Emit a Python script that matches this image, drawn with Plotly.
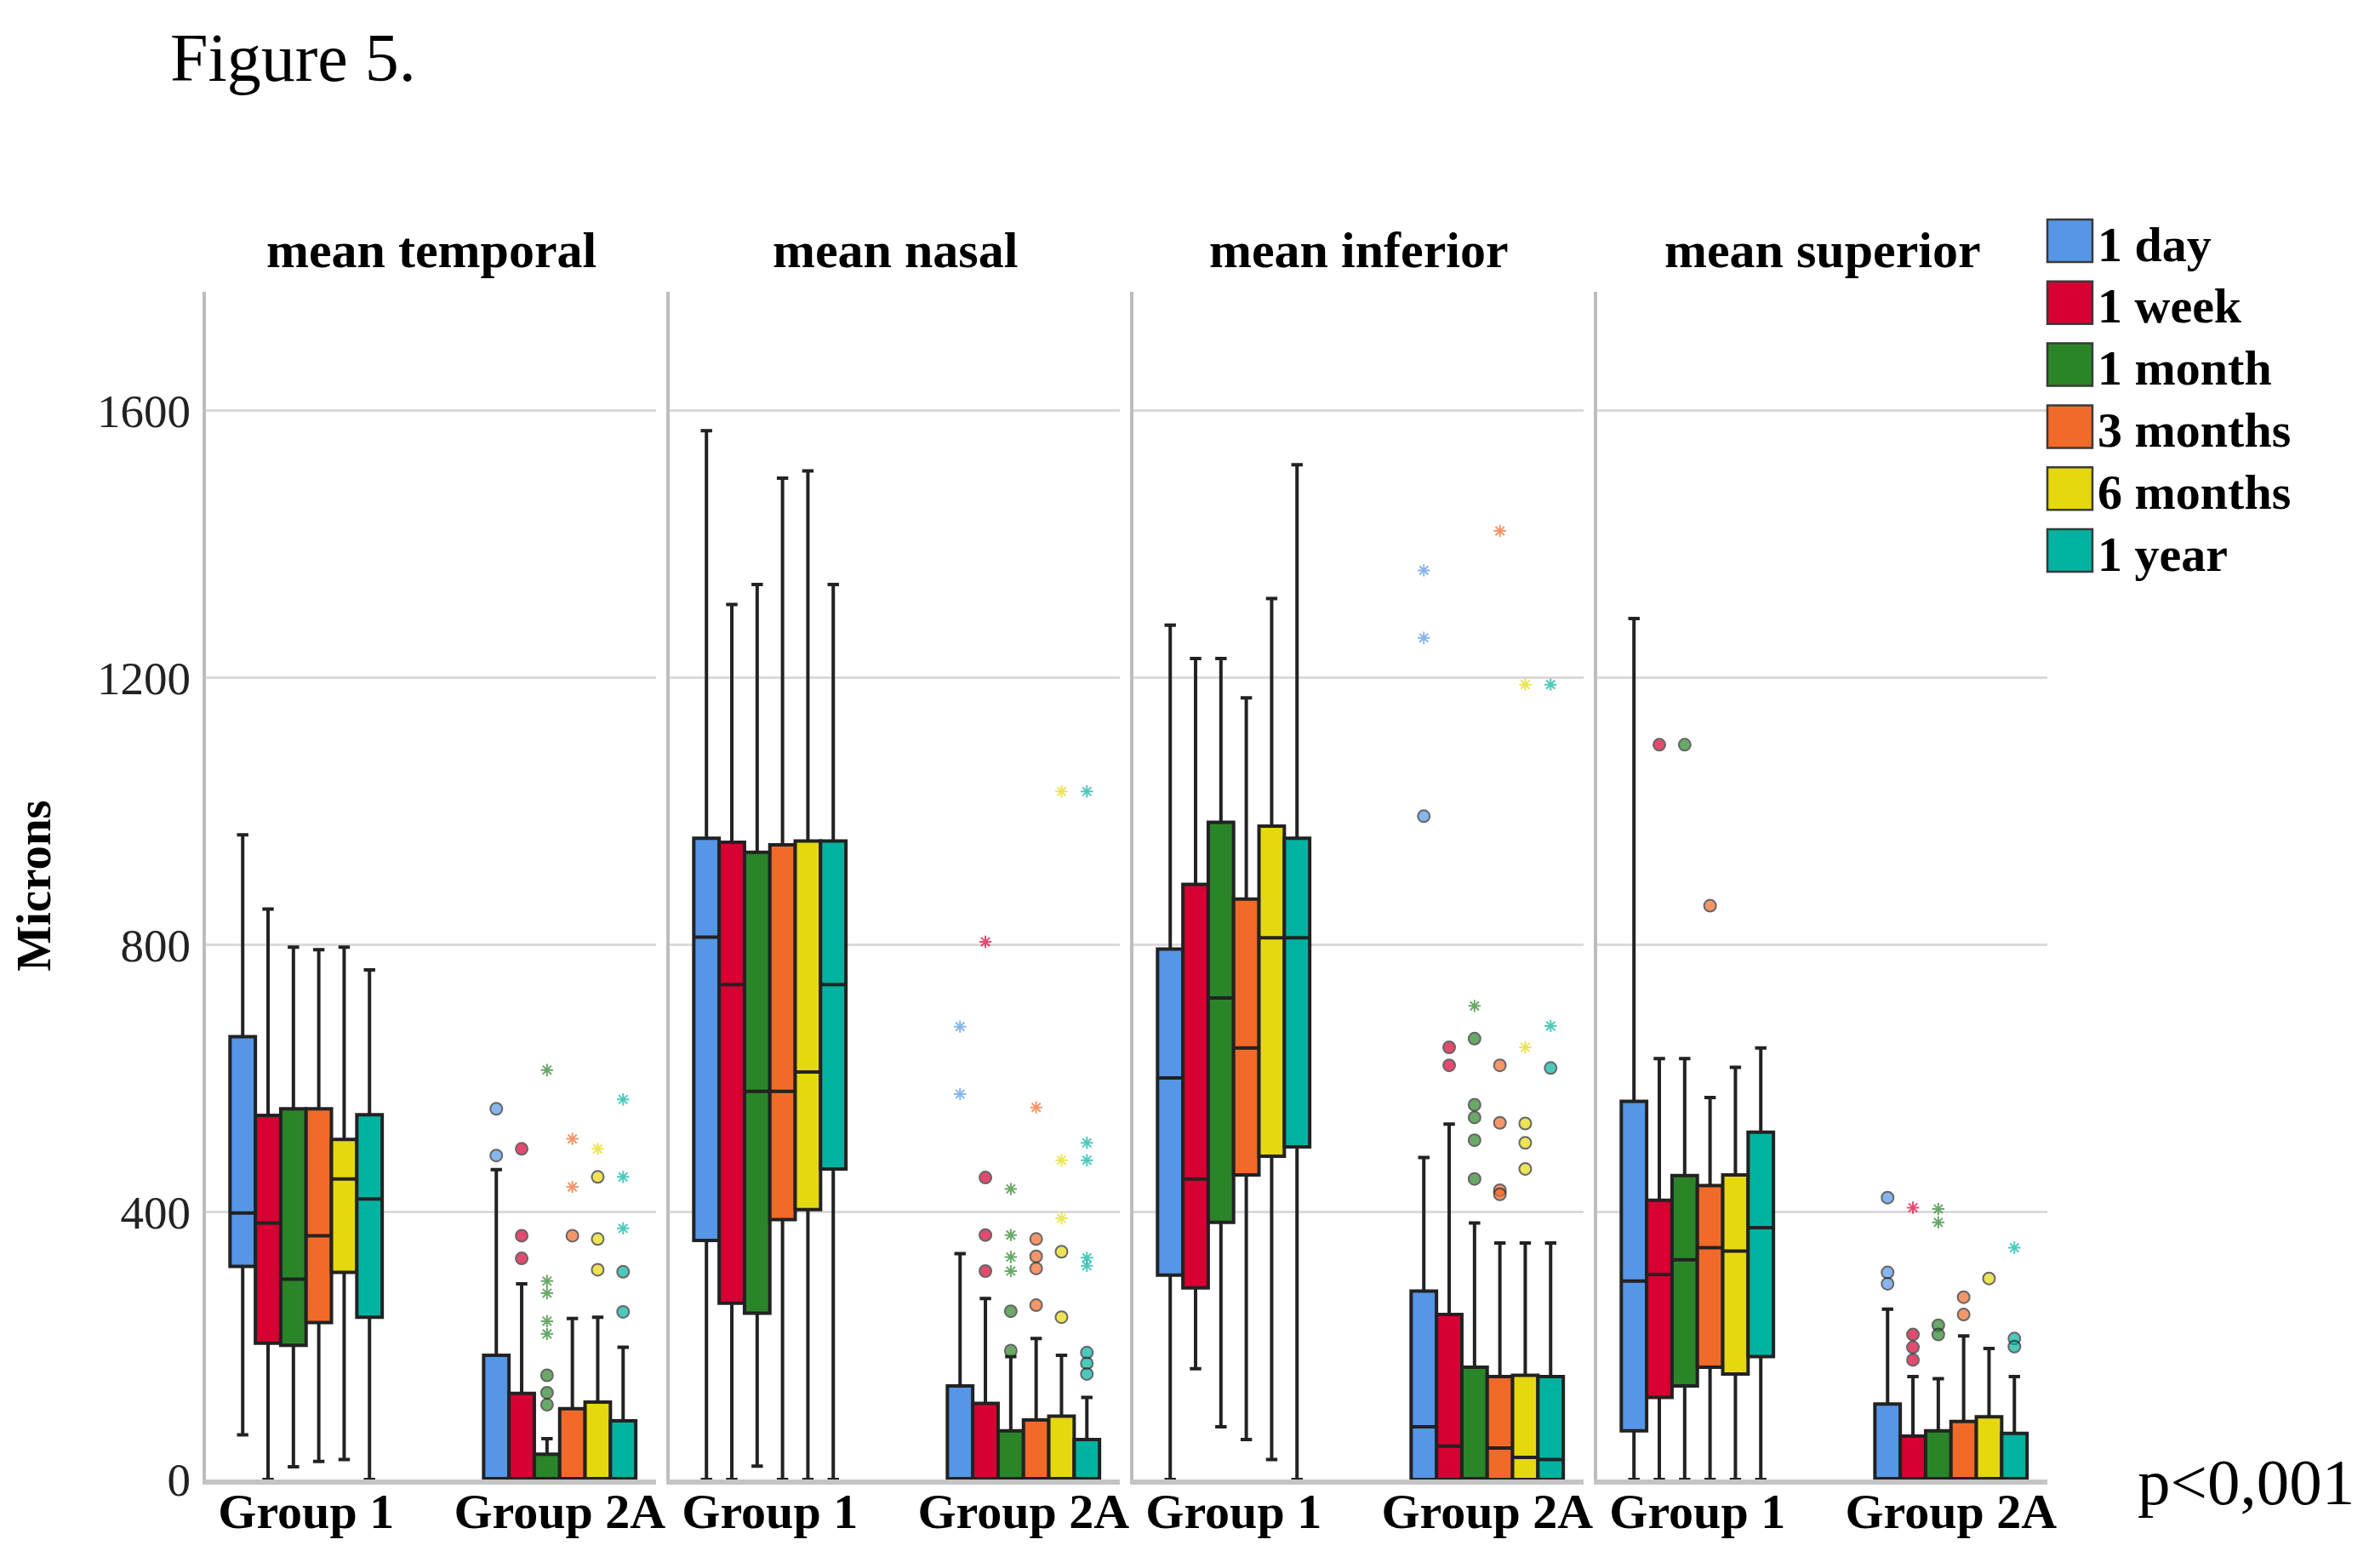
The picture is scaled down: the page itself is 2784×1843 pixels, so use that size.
import plotly.graph_objects as go
from plotly.subplots import make_subplots

times = ["1 day", "1 week", "1 month", "3 months", "6 months", "1 year"]
colors = ["#5596e6", "#d70032", "#2a8528", "#f26a2a", "#e6d80f", "#00b3a0"]
groups = ["Group 1", "Group 2A"]
regions = ["mean temporal", "mean nasal", "mean inferior", "mean superior"]

# box stats for each time point: (lower whisker, q1, median, q3, upper whisker)
temporal_g1 = [(67, 319, 399, 663, 965), (0, 204, 384, 545, 854), (19, 201, 300, 555, 797),
               (27, 235, 365, 555, 793), (30, 310, 450, 509, 797), (0, 243, 420, 546, 763)]
temporal_g2a = [(0, 0, 0, 186, 464), (0, 0, 0, 129, 293), (0, 0, 0, 38, 61),
                (0, 0, 0, 106, 241), (0, 0, 0, 116, 243), (0, 0, 0, 88, 198)]
nasal_g1 = [(0, 358, 812, 960, 1570), (0, 264, 741, 954, 1310), (20, 249, 581, 939, 1340),
            (0, 389, 581, 950, 1499), (0, 404, 610, 956, 1510), (0, 465, 741, 956, 1340)]
nasal_g2a = [(0, 0, 0, 140, 338), (0, 0, 0, 114, 271), (0, 0, 0, 73, 184),
             (0, 0, 0, 89, 211), (0, 0, 0, 95, 186), (0, 0, 0, 60, 123)]
inferior_g1 = [(0, 306, 601, 794, 1279), (166, 287, 450, 891, 1229), (79, 385, 721, 984, 1229),
               (60, 456, 646, 869, 1170), (30, 484, 811, 978, 1319), (0, 498, 811, 960, 1519)]
inferior_g2a = [(0, 0, 79, 282, 482), (0, 0, 50, 247, 532), (0, 0, 0, 168, 384),
                (0, 0, 47, 154, 354), (0, 0, 33, 156, 354), (0, 0, 30, 154, 354)]
superior_g1 = [(0, 73, 297, 566, 1289), (0, 123, 307, 418, 630), (0, 140, 329, 455, 630),
               (0, 168, 347, 440, 572), (0, 158, 342, 456, 617), (0, 184, 377, 520, 646)]
superior_g2a = [(0, 0, 0, 113, 255), (0, 0, 0, 65, 154), (0, 0, 0, 73, 151),
                (0, 0, 0, 87, 215), (0, 0, 0, 94, 196), (0, 0, 0, 69, 154)]

# outliers per time point: circles (o) and extremes (*)
none = [[], [], [], [], [], []]
temporal_circles_g2a = [[555, 485], [495, 365, 331], [156, 130, 112], [365], [453, 360, 314], [311, 251]]
temporal_stars_g2a = [[], [], [613, 297, 279, 237, 218], [510, 438], [495], [569, 453, 376]]
nasal_circles_g2a = [[], [452, 366, 312], [252, 193], [360, 334, 316, 261], [341, 243], [190, 174, 158]]
nasal_stars_g2a = [[678, 577], [805], [435, 366, 333, 312], [557], [1030, 478, 391], [1030, 504, 478, 332, 320]]
inferior_circles_g2a = [[993], [647, 620], [660, 561, 542, 508, 450], [620, 534, 433, 427], [533, 504, 465], [616]]
inferior_stars_g2a = [[1361, 1260], [], [709], [1420], [1190, 647], [1190, 679]]
superior_circles_g1 = [[], [1100], [1100], [859], [], []]
superior_circles_g2a = [[422, 310, 293], [217, 198, 179], [231, 217], [273, 247], [301], [211, 199]]
superior_stars_g2a = [[], [407], [405, 385], [], [], [347]]

panels = [
    (temporal_g1, temporal_g2a, none, temporal_circles_g2a, none, temporal_stars_g2a),
    (nasal_g1, nasal_g2a, none, nasal_circles_g2a, none, nasal_stars_g2a),
    (inferior_g1, inferior_g2a, none, inferior_circles_g2a, none, inferior_stars_g2a),
    (superior_g1, superior_g2a, superior_circles_g1, superior_circles_g2a, none, superior_stars_g2a),
]

W, H = 2784, 1843
L, R, T, B = 234, 386, 335, 112
SERIF = "Liberation Serif"


def px(x):
    return (x - L) / (W - L - R)


def py(y):
    return (H - B - y) / (H - T - B)


fig = make_subplots(rows=1, cols=4, shared_yaxes=True,
                    horizontal_spacing=16 / (W - L - R), subplot_titles=regions)
fig.update_annotations(font=dict(family=SERIF, size=60, color="black", weight="bold"), yshift=14)

for col, (g1, g2, c1, c2, s1, s2) in enumerate(panels, start=1):
    for k, t in enumerate(times):
        stats = [g1[k], g2[k]]
        fig.add_trace(go.Box(
            x=groups,
            lowerfence=[s[0] for s in stats],
            q1=[s[1] for s in stats],
            median=[s[2] for s in stats],
            q3=[s[3] for s in stats],
            upperfence=[s[4] for s in stats],
            name=t, offsetgroup=t, fillcolor=colors[k],
            line=dict(color="#222222", width=4), whiskerwidth=0.45,
            boxpoints=False, showlegend=False, hoverinfo="skip",
        ), row=1, col=col)

        xs, ys, syms = [], [], []
        for grp, circ, star in ((groups[0], c1[k], s1[k]), (groups[1], c2[k], s2[k])):
            for v in circ:
                xs.append(grp)
                ys.append(v)
                syms.append("circle")
            for v in star:
                xs.append(grp)
                ys.append(v)
                syms.append("asterisk-open")
        if xs:
            fig.add_trace(go.Scatter(
                x=xs, y=ys, mode="markers", orientation="v", offsetgroup=t,
                marker=dict(symbol=syms, color=colors[k],
                            size=[14 if s == "circle" else 12 for s in syms],
                            line=dict(color="#262626", width=2)),
                showlegend=False, hoverinfo="skip",
            ), row=1, col=col)

fig.update_xaxes(type="category", categoryorder="array", categoryarray=groups,
                 range=[-0.395, 1.38], showgrid=False, showline=True,
                 linecolor="#c4c4c4", linewidth=6, ticks="", ticklabelstandoff=-19,
                 tickfont=dict(family=SERIF, size=58, color="black", weight="bold"))
fig.update_yaxes(range=[0, 1778], tickvals=[0, 400, 800, 1200, 1600],
                 showgrid=True, gridcolor="#dadada", gridwidth=3, zeroline=False,
                 showline=True, linecolor="#bdbdbd", linewidth=4, ticks="",
                 tickfont=dict(family=SERIF, size=55, color="#222222"))
fig.update_yaxes(title=dict(text="Microns", standoff=46,
                            font=dict(family=SERIF, size=57, color="black", weight="bold")),
                 ticklabelstandoff=3, row=1, col=1)

# legend drawn as large swatches like the SPSS output
for k, (t, c) in enumerate(zip(times, colors)):
    yc = 275 + 72.8 * k
    fig.add_shape(type="rect", xref="paper", yref="paper",
                  x0=px(2398), x1=px(2451), y0=py(yc + 25), y1=py(yc - 25),
                  fillcolor=c, line=dict(color="#3a3a3a", width=2.5))
    fig.add_annotation(xref="paper", yref="paper", x=px(2455), y=py(yc + 4), text=t,
                       xanchor="left", yanchor="middle", showarrow=False,
                       font=dict(family=SERIF, size=58, color="black", weight="bold"))

fig.add_annotation(xref="paper", yref="paper", x=px(2502), y=py(1734), text="p<0,001",
                   xanchor="left", yanchor="middle", showarrow=False,
                   font=dict(family=SERIF, size=77, color="black"))

fig.update_layout(
    width=W, height=H, margin=dict(l=L, r=R, t=T, b=B),
    paper_bgcolor="white", plot_bgcolor="white",
    boxmode="group", boxgap=0.4, boxgroupgap=0,
    scattermode="group", scattergap=0.4,
    title=dict(text="Figure 5.", x=192 / W, xanchor="left", xref="container",
               y=1 - 59 / H, yanchor="middle",
               font=dict(family=SERIF, size=80, color="black")),
)

fig.write_html("out.html")
